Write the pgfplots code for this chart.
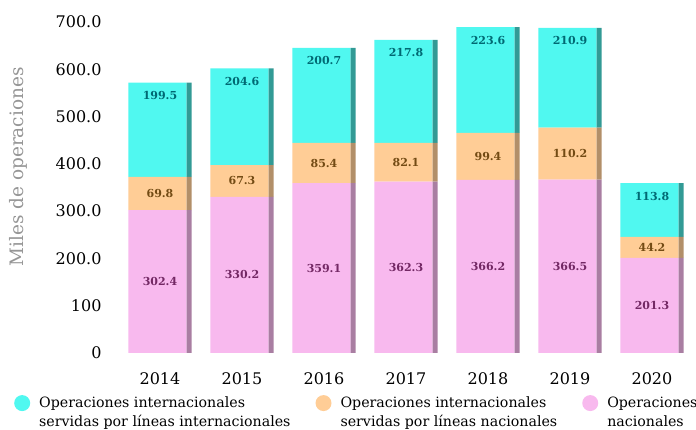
\documentclass[border=0pt]{standalone}
\usepackage{fontspec}
\setmainfont{DejaVu Serif}
\usepackage{pgfplots}
\pgfplotsset{compat=1.18}
\usepackage{pgfplotstable}

\definecolor{cyanF}{RGB}{80,248,240}
\definecolor{orangeF}{RGB}{255,205,150}
\definecolor{pinkF}{RGB}{248,185,238}
\definecolor{cyanT}{RGB}{0,105,115}
\definecolor{orangeT}{RGB}{115,75,20}
\definecolor{pinkT}{RGB}{115,40,100}
\definecolor{labgray}{RGB}{150,150,150}

\pgfplotstableread{
x year pink orange cyan
0 2014 302.4 69.8 199.5
1 2015 330.2 67.3 204.6
2 2016 359.1 85.4 200.7
3 2017 362.3 82.1 217.8
4 2018 366.2 99.4 223.6
5 2019 366.5 110.2 210.9
6 2020 201.3 44.2 113.8
}\datatable

\pgfplotsset{
  common/.style={
    at={(0,0)}, anchor=south west,
    scale only axis, width=574pt, height=331pt,
    xmin=-0.5, xmax=6.5, ymin=0, ymax=700,
    ybar stacked,
    axis line style={draw=none}, major tick length=0pt,
    clip=false}
}

\begin{document}
\begin{tikzpicture}
\begin{axis}[
  common,
  bar width=0.71, bar shift=-0.03,
  xtick={0,...,6}, xticklabels={2014,2015,2016,2017,2018,2019,2020},
  ytick={0,100,...,700}, yticklabels={0,100,200.0,300.0,400.0,500.0,600.0,700.0},
  tick label style={font=\fontsize{16}{19}\selectfont},
  yticklabel style={xshift=-14pt},
  xticklabel style={yshift=-16pt},
  ylabel={Miles de operaciones},
  ylabel style={at={(axis description cs:-0.176,0.562)}, anchor=center, font=\fontsize{18.5}{22}\selectfont, text=labgray},
  nodes near coords={\pgfmathprintnumber[fixed,precision=1,fixed zerofill,assume math mode=true]{\pgfplotspointmeta}},
  point meta=explicit,
  legend columns=3,
  reverse legend=true,
  legend cell align=left,
  legend style={at={(axis description cs:0,0)}, anchor=north west, xshift=-105pt, yshift=-39pt, draw=none, fill=none, inner sep=0pt,
    font=\fontsize{14.2}{19}\selectfont,
    /tikz/every odd column/.append style={column sep=7pt},
    /tikz/every even column/.append style={column sep=23pt}},
]
\addplot[fill=pinkF, draw=none,
  legend image code/.code={\fill[pinkF] (8pt,-1.5pt) circle (8pt);},
  every node near coord/.style={font=\bfseries\fontsize{11}{13}\selectfont, anchor=center, text=pinkT}]
  table[x=x, y=pink, meta=pink] {\datatable};
\addlegendentry{\begin{tabular}[t]{@{}l@{}}Operaciones\\nacionales\end{tabular}}
\addplot[fill=orangeF, draw=none,
  legend image code/.code={\fill[orangeF] (8pt,-1.5pt) circle (8pt);},
  every node near coord/.style={font=\bfseries\fontsize{11}{13}\selectfont, anchor=center, text=orangeT}]
  table[x=x, y=orange, meta=orange] {\datatable};
\addlegendentry{\begin{tabular}[t]{@{}l@{}}Operaciones internacionales\\servidas por líneas nacionales\end{tabular}}
\addplot[fill=cyanF, draw=none,
  legend image code/.code={\fill[cyanF] (8pt,-1.5pt) circle (8pt);},
  visualization depends on={\thisrow{cyan} \as \segval},
  every node near coord/.style={font=\bfseries\fontsize{11}{13}\selectfont, anchor=center, text=cyanT, yshift={0.23643*\segval*1pt-13pt}}]
  table[x=x, y=cyan, meta=cyan] {\datatable};
\addlegendentry{\begin{tabular}[t]{@{}l@{}}Operaciones internacionales\\servidas por líneas internacionales\end{tabular}}
\end{axis}
% right-hand side faces of the 3D bars
\begin{axis}[common, hide axis, bar width=0.06, bar shift=0.355]
\addplot[fill=pinkF!68!black, draw=none] table[x=x, y=pink] {\datatable};
\addplot[fill=orangeF!70!black, draw=none] table[x=x, y=orange] {\datatable};
\addplot[fill=cyanF!62!black, draw=none] table[x=x, y=cyan] {\datatable};
\end{axis}
\pgfresetboundingbox
\path (-119pt,-77pt) rectangle (577pt,353pt);
\end{tikzpicture}
\end{document}
